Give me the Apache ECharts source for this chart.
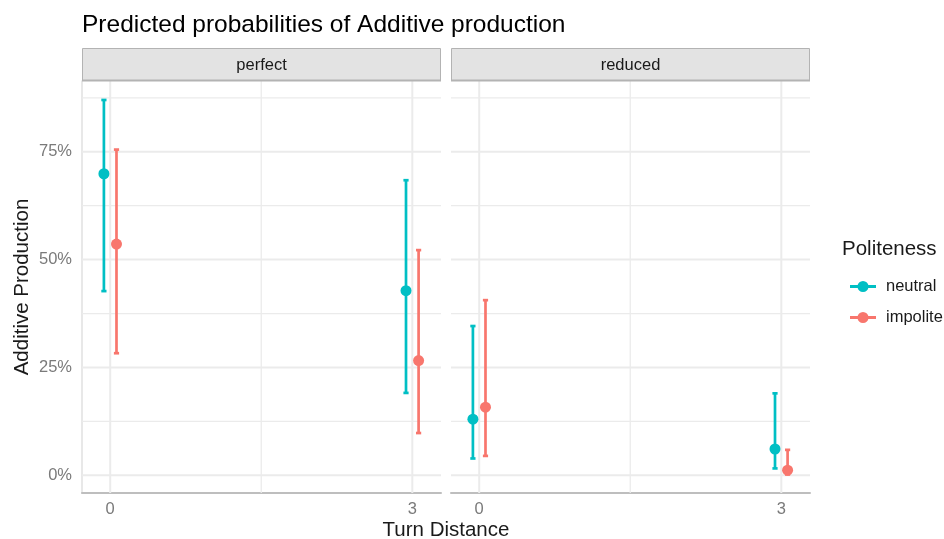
<!DOCTYPE html>
<html>
<head>
<meta charset="utf-8">
<script src="https://cdn.jsdelivr.net/npm/echarts@6/dist/echarts.min.js"></script>
<style>html,body{margin:0;padding:0;background:#fff}#chart{width:944px;height:539px}</style>
</head>
<body>
<div id="chart"></div>
<script>
// facets / x values
const facets = ['perfect', 'reduced'];
const distances = [0, 3];
const xTicks = [0, 3];
const xMinor = [1.5];
const yTicks = [0, 0.25, 0.5, 0.75];
const yMinor = [0.125, 0.375, 0.625, 0.875];

// predicted probabilities, one row per facet, one value per distance
const neutralFit = [[0.699, 0.428], [0.130, 0.061]];
const neutralLo  = [[0.427, 0.191], [0.039, 0.016]];
const neutralHi  = [[0.870, 0.684], [0.346, 0.190]];
const impoliteFit = [[0.536, 0.266], [0.158, 0.012]];
const impoliteLo  = [[0.283, 0.098], [0.045, 0.002]];
const impoliteHi  = [[0.755, 0.522], [0.406, 0.059]];

const groups = [
  {name: 'neutral', color: '#00BFC4', dodge: -0.0625, fit: neutralFit, lo: neutralLo, hi: neutralHi},
  {name: 'impolite', color: '#F8766D', dodge: 0.0625, fit: impoliteFit, lo: impoliteLo, hi: impoliteHi}
];

const FONT = 'Liberation Sans, Arial, sans-serif';
const gridW = 359, gridH = 412, gridTop = 81;
const gridLefts = [82, 451];

function gridSeries(idx, vals, horiz, width) {
  return {
    type: 'custom', name: 'grid' + idx, xAxisIndex: idx, yAxisIndex: idx, silent: true, z: 1,
    data: vals.map(v => [v, v]),
    renderItem: (params, api) => {
      const cs = params.coordSys;
      let shape;
      if (horiz) {
        const y = api.coord([0, api.value(1)])[1];
        shape = {x1: cs.x, y1: y, x2: cs.x + cs.width, y2: y};
      } else {
        const x = api.coord([api.value(0), 0])[0];
        shape = {x1: x, y1: cs.y, x2: x, y2: cs.y + cs.height};
      }
      return {type: 'line', shape, style: {stroke: '#ebebeb', lineWidth: width}};
    }
  };
}

function errorSeries(idx, g) {
  return {
    type: 'custom', name: g.name, xAxisIndex: idx, yAxisIndex: idx, z: 3,
    itemStyle: {color: g.color},
    data: distances.map((d, i) => [d + g.dodge, g.lo[idx][i], g.hi[idx][i]]),
    renderItem: (params, api) => {
      const a = api.coord([api.value(0), api.value(1)]);
      const b = api.coord([api.value(0), api.value(2)]);
      const st = {stroke: g.color, lineWidth: 2.7};
      const cw = 2.6;
      return {type: 'group', children: [
        {type: 'line', shape: {x1: a[0], y1: a[1], x2: b[0], y2: b[1]}, style: st},
        {type: 'line', shape: {x1: a[0] - cw, y1: a[1], x2: a[0] + cw, y2: a[1]}, style: st},
        {type: 'line', shape: {x1: b[0] - cw, y1: b[1], x2: b[0] + cw, y2: b[1]}, style: st}
      ]};
    }
  };
}

function pointSeries(idx, g) {
  return {
    type: 'scatter', name: g.name, xAxisIndex: idx, yAxisIndex: idx, z: 4,
    symbol: 'circle', symbolSize: 11,
    itemStyle: {color: g.color, opacity: 1},
    data: distances.map((d, i) => [d + g.dodge, g.fit[idx][i]])
  };
}

const series = [];
facets.forEach((f, idx) => {
  series.push(gridSeries(idx, yMinor, true, 1.3));
  series.push(gridSeries(idx, yTicks, true, 2));
  series.push(gridSeries(idx, xMinor, false, 1.3));
  series.push(gridSeries(idx, xTicks, false, 2));
});
facets.forEach((f, idx) => groups.forEach(g => series.push(errorSeries(idx, g))));
facets.forEach((f, idx) => groups.forEach(g => series.push(pointSeries(idx, g))));

const strips = [];
facets.forEach((f, idx) => {
  strips.push({type: 'rect', shape: {x: gridLefts[idx] + 0.5, y: 48.5, width: gridW - 1, height: 32},
    style: {fill: '#e3e3e3', stroke: '#b3b3b3', lineWidth: 1}, z: 10});
  strips.push({type: 'line', shape: {x1: gridLefts[idx], y1: 80.5, x2: gridLefts[idx] + gridW, y2: 80.5},
    style: {stroke: '#b3b3b3', lineWidth: 2}, z: 10});
  strips.push({type: 'text', x: gridLefts[idx] + gridW / 2, y: 65, z: 11,
    style: {text: f, fill: '#1a1a1a', font: '16.5px ' + FONT, textAlign: 'center', textVerticalAlign: 'middle'}});
});
strips.push({type: 'text', x: 446, y: 530, z: 11,
  style: {text: 'Turn Distance', fill: '#1a1a1a', font: '20.5px ' + FONT, textAlign: 'center', textVerticalAlign: 'middle'}});
strips.push({type: 'text', x: 842, y: 249, z: 11,
  style: {text: 'Politeness', fill: '#1a1a1a', font: '20.5px ' + FONT, textAlign: 'left', textVerticalAlign: 'middle'}});

const chart = echarts.init(document.getElementById('chart'));
chart.setOption({
  animation: false,
  backgroundColor: '#fff',
  textStyle: {fontFamily: FONT},
  title: {text: 'Predicted probabilities of Additive production', left: 77, top: 8,
    textStyle: {fontSize: 24.5, fontWeight: 'normal', color: '#000', fontFamily: FONT}},
  legend: {
    data: groups.map(g => g.name), orient: 'vertical', left: 845, top: 273,
    itemWidth: 26, itemHeight: 11, itemGap: 14,
    icon: 'path://M0,4H26V7H0Z M18.5,5.5A5.5,5.5 0 1 1 7.5,5.5A5.5,5.5 0 1 1 18.5,5.5Z',
    textStyle: {fontSize: 16.5, color: '#1a1a1a', fontFamily: FONT, padding: [0, 0, 0, 5]},
    selectedMode: false
  },
  grid: gridLefts.map(l => ({left: l, top: gridTop, width: gridW, height: gridH})),
  xAxis: facets.map((f, idx) => ({
    type: 'value', gridIndex: idx, min: -0.28, max: 3.285,
    splitLine: {show: false}, axisTick: {show: false},
    axisLine: {show: true, onZero: false, lineStyle: {color: '#bebebe', width: 2}},
    axisLabel: {customValues: xTicks, color: '#7a7a7a', fontSize: 16.5, margin: 8, fontFamily: FONT}
  })),
  yAxis: facets.map((f, idx) => ({
    type: 'value', gridIndex: idx, min: -0.041, max: 0.914,
    splitLine: {show: false}, axisTick: {show: false},
    axisLine: {show: idx === 0, onZero: false, lineStyle: {color: '#e0e0e0', width: 1.5}},
    axisLabel: {show: idx === 0, customValues: yTicks, color: '#7a7a7a', fontSize: 16.5, margin: 10,
      fontFamily: FONT, formatter: v => Math.round(v * 100) + '%'},
    name: idx === 0 ? 'Additive Production' : '', nameLocation: 'middle', nameGap: 49,
    nameTextStyle: {fontSize: 20.5, color: '#1a1a1a', fontFamily: FONT}
  })),
  graphic: strips,
  series
});
</script>
</body>
</html>
